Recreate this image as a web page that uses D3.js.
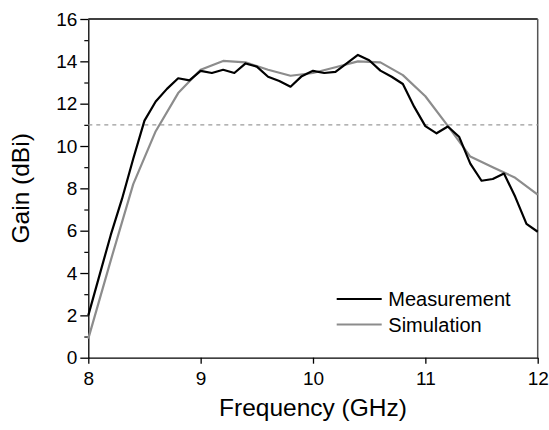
<!DOCTYPE html>
<html>
<head>
<meta charset="utf-8">
<script src="https://cdn.jsdelivr.net/npm/d3@7"></script>
<style>
  body { margin: 0; background: #fff; }
  svg { display: block; font-family: "Liberation Sans", Arial, sans-serif; }
</style>
</head>
<body>
<svg id="chart"></svg>
<script>
// measured gain, 0.1 GHz steps
const measFreq = [8.0, 8.1, 8.2, 8.3, 8.4, 8.5, 8.6, 8.7, 8.8, 8.9, 9.0, 9.1, 9.2, 9.3, 9.4, 9.5, 9.6, 9.7, 9.8, 9.9,
                  10.0, 10.1, 10.2, 10.3, 10.4, 10.5, 10.6, 10.7, 10.8, 10.9, 11.0, 11.1, 11.2, 11.3, 11.4, 11.5, 11.6, 11.7, 11.8, 11.9, 12.0];
const measGain = [2.0, 3.9, 5.8, 7.5, 9.4, 11.2, 12.1, 12.7, 13.2, 13.1, 13.55, 13.45, 13.6, 13.45, 13.9, 13.75, 13.27, 13.07, 12.8, 13.3,
                  13.55, 13.45, 13.5, 13.9, 14.3, 14.05, 13.56, 13.27, 12.93, 11.86, 10.94, 10.6, 10.92, 10.44, 9.17, 8.36, 8.44, 8.7, 7.6, 6.32, 5.95];

// simulated gain, 0.2 GHz steps
const simFreq = [8.0, 8.2, 8.4, 8.6, 8.8, 9.0, 9.2, 9.4, 9.6, 9.8, 10.0, 10.2, 10.4, 10.6, 10.8, 11.0, 11.2, 11.4, 11.6, 11.8, 12.0];
const simGain = [0.9, 4.6, 8.2, 10.7, 12.5, 13.6, 14.02, 13.95, 13.6, 13.32, 13.45, 13.72, 14.0, 13.95, 13.35, 12.35, 10.95, 9.5, 9.0, 8.5, 7.7];

const xTicks = [8, 9, 10, 11, 12];
const yTicks = [0, 2, 4, 6, 8, 10, 12, 14, 16];
const yMinorTicks = [1, 3, 5, 7, 9, 11, 13, 15];
const refLevel = 11;

const seriesNames = ["Measurement", "Simulation"];
const seriesColors = ["#000000", "#8c8c8c"];

// SVG size
const width = 549, height = 430;
const margin = {top: 19, right: 11.3, bottom: 72.3, left: 88.3};
const plotW = width - margin.left - margin.right;
const plotH = height - margin.top - margin.bottom;

const svg = d3.select("#chart").attr("width", width).attr("height", height);
const g = svg.append("g").attr("transform", `translate(${margin.left},${margin.top})`);

const x = d3.scaleLinear().domain([8, 12]).range([0, plotW]);
const y = d3.scaleLinear().domain([0, 16]).range([plotH, 0]);

// frame top and right
g.append("line").attr("x1", 0).attr("x2", plotW).attr("y1", 0).attr("y2", 0)
  .attr("stroke", "#000").attr("stroke-width", 1.3);
g.append("line").attr("x1", plotW).attr("x2", plotW).attr("y1", 0).attr("y2", plotH)
  .attr("stroke", "#555").attr("stroke-width", 1.5);

// minor y ticks
g.append("g")
  .call(d3.axisLeft(y).tickValues(yMinorTicks).tickSize(4).tickFormat(""))
  .call(a => a.select(".domain").remove())
  .selectAll("line").attr("stroke-width", 1.2);

// y axis
const yAxis = g.append("g")
  .call(d3.axisLeft(y).tickValues(yTicks).tickSize(8).tickSizeOuter(0).tickPadding(3));
yAxis.selectAll("text").attr("font-size", 19).attr("fill", "#000");
yAxis.selectAll("line, path").attr("stroke-width", 1.3);

// x axis
const xAxis = g.append("g")
  .attr("transform", `translate(0,${plotH})`)
  .call(d3.axisBottom(x).tickValues(xTicks).tickSize(6).tickSizeOuter(0).tickPadding(8).tickFormat(d3.format("d")));
xAxis.selectAll("text").attr("font-size", 19).attr("fill", "#000");
xAxis.selectAll("line, path").attr("stroke-width", 1.3);

// dashed reference level
g.append("line")
  .attr("x1", 0).attr("x2", plotW)
  .attr("y1", y(refLevel)).attr("y2", y(refLevel))
  .attr("stroke", "#9a9a9a").attr("stroke-width", 1.2)
  .attr("stroke-dasharray", "4,4");

const line = d3.line().x(d => x(d[0])).y(d => y(d[1]));
const simData = simFreq.map((f, i) => [f, simGain[i]]);
const measData = measFreq.map((f, i) => [f, measGain[i]]);

g.append("path").datum(simData)
  .attr("d", line).attr("fill", "none")
  .attr("stroke", seriesColors[1]).attr("stroke-width", 2.2).attr("stroke-linejoin", "round");
g.append("path").datum(measData)
  .attr("d", line).attr("fill", "none")
  .attr("stroke", seriesColors[0]).attr("stroke-width", 2.2).attr("stroke-linejoin", "round");

// legend
const legend = g.append("g").attr("transform", `translate(${336.7 - margin.left},${299 - margin.top})`);
seriesNames.forEach((name, i) => {
  legend.append("line")
    .attr("x1", 0).attr("x2", 45).attr("y1", i * 25.5).attr("y2", i * 25.5)
    .attr("stroke", seriesColors[i]).attr("stroke-width", 2.2);
  legend.append("text")
    .attr("x", 51.6).attr("y", i * 25.5).attr("dy", "0.35em")
    .attr("font-size", 20).attr("fill", "#000")
    .text(name);
});

// axis titles
svg.append("text")
  .attr("x", margin.left + plotW / 2).attr("y", 416)
  .attr("text-anchor", "middle").attr("font-size", 24.5)
  .text("Frequency (GHz)");

svg.append("text")
  .attr("transform", `translate(29,${margin.top + plotH / 2}) rotate(-90)`)
  .attr("text-anchor", "middle").attr("font-size", 24.5)
  .text("Gain (dBi)");
</script>
</body>
</html>
